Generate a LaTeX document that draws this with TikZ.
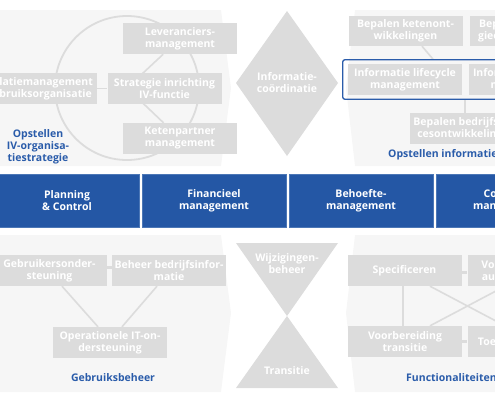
\documentclass[tikz,border=0pt]{standalone}
\usepackage{fontspec}
\setmainfont{Open Sans}
\usetikzlibrary{fit,calc}
\definecolor{panel}{HTML}{F6F6F6}
\definecolor{gbx}{HTML}{DCDCDC}
\definecolor{bar}{HTML}{2457A5}
\definecolor{barline}{HTML}{4C77B6}
\definecolor{lbl}{HTML}{2A5CAA}
\pgfdeclarelayer{pan}
\pgfdeclarelayer{bg}
\pgfsetlayers{pan,bg,main}
\begin{document}
\begin{tikzpicture}[x=1pt,y=-1pt,
  every node/.style={font=\bfseries\fontsize{10.5}{12}\selectfont},
  gbox/.style={fill=gbx,text=white,minimum width=114pt,minimum height=31pt,inner sep=0pt,align=center},
  barbox/.style={fill=bar,draw=barline,line width=0.6pt,text=white,minimum width=144pt,minimum height=53pt,inner sep=0pt,align=center},
  conn/.style={draw=gbx,line width=1.6pt},
  lab/.style={text=lbl,align=center,inner sep=0pt},
  shapetext/.style={text=white,align=center,inner sep=0pt}]
\useasboundingbox (0,0) rectangle (495,400);
\clip (0,0) rectangle (495,400);

% panels
\begin{pgfonlayer}{pan}
\fill[panel] (0,10) -- (221,10) -- (231,88) -- (221,166) -- (0,166) -- cycle;
\fill[panel] (0,235) -- (221,235) -- (231,313) -- (221,392) -- (0,392) -- cycle;
\fill[panel] (355,10) -- (495,10) -- (495,166) -- (355,166) -- (346,88) -- cycle;
\fill[panel] (355,235) -- (495,235) -- (495,392) -- (355,392) -- (346,313) -- cycle;
\end{pgfonlayer}

% top-left: IV-organisatiestrategie
\coordinate (cc) at (127,88);
\node[gbox] (lev) at (180,38.5) {Leveranciers-\\management};
\node[gbox] (rel) at (39.5,88.5) {Relatiemanagement\\gebruiksorganisatie};
\node[gbox] (strat) at (164.5,88.5) {Strategie inrichting\\IV-functie};
\node[gbox] (keten) at (180,138.5) {Ketenpartner\\management};
\node[lab] (l1) at (38,147) {Opstellen\\IV-organisa-\\tiestrategie};
\begin{pgfonlayer}{bg}
\draw[gbx,line width=1.8pt] (cc) circle[radius=72];
\draw[conn] (cc) -- (lev);
\draw[conn] (cc) -- (keten);
\draw[conn] (rel) -- (strat);
\end{pgfonlayer}

% diamond
\fill[gbx] (236,83) -- (287,11) -- (338,83) -- (287,156) -- cycle;
\node[shapetext] (dia) at (287,83) {Informatie-\\coördinatie};

% top-right: informatiestrategie
\node[gbox,minimum height=30pt] (bket) at (405.5,31) {Bepalen ketenont-\\wikkelingen};
\node[gbox,minimum height=30pt] (btech) at (526.5,31) {Bepalen technolo-\\gieontwikkelingen};
\node[gbox] (ilm) at (405,79.5) {Informatie lifecycle\\management};
\node[gbox] (ipm) at (525.5,79.5) {Informatie portfolio\\management};
\node[draw=lbl,line width=1.3pt,rounded corners=2pt,inner xsep=5pt,inner ysep=4pt,fit=(ilm)(ipm)] (ilc) {};
\node[gbox] (bbp) at (466.5,128.5) {Bepalen bedrijfspro-\\cesontwikkelingen};
\node[lab,anchor=west] (l2) at (388,155) {Opstellen informatiestrategie};
\begin{pgfonlayer}{bg}
\draw[conn] ([xshift=16.5pt]bket.south) -- ([xshift=27.5pt]bket.south |- ilc.north);
\draw[conn] ([xshift=-1.5pt]bbp.north) -- ([xshift=-1.5pt]bbp.north |- ilc.south);
\end{pgfonlayer}

% blue bar
\node[barbox] (pc) at (67,200.5) {Planning\\\& Control};
\node[barbox] (fm) at (214,200.5) {Financieel\\management};
\node[barbox] (bm) at (361,200.5) {Behoefte-\\management};
\node[barbox] (cm) at (508,200.5) {Contract-\\management};

% bottom-left: Gebruiksbeheer
\node[gbox] (gos) at (49.5,270.5) {Gebruikersonder-\\steuning};
\node[gbox] (bbi) at (169,270.5) {Beheer bedrijfsinfor-\\matie};
\node[gbox] (oit) at (110,342.5) {Operationele IT-on-\\dersteuning};
\node[lab] (l3) at (113,378) {Gebruiksbeheer};
\begin{pgfonlayer}{bg}
\draw[conn,line width=3pt] ([yshift=3pt]gos.east) -- ([yshift=3pt]bbi.west);
\draw[conn] ([xshift=12.5pt]gos.south) -- ([xshift=-12pt]oit.north);
\draw[conn] ([xshift=-12pt]bbi.south) -- ([xshift=12pt]oit.north);
\end{pgfonlayer}

% hourglass
\fill[gbx] (236,243) -- (338,243) -- (287,316) -- cycle;
\fill[gbx] (287,316) -- (338,388) -- (236,388) -- cycle;
\node[shapetext] (wb) at (287,264) {Wijzigingen-\\beheer};
\node[shapetext] (tr) at (287,371) {Transitie};

% bottom-right: Functionaliteitenbeheer
\node[gbox] (spec) at (404.5,270.5) {Specificeren};
\node[gbox] (vorm) at (524.5,270.5) {Vormgeven niet-\\automatische IV};
\node[gbox] (voor) at (405,341.5) {Voorbereiding\\transitie};
\node[gbox] (toe) at (524.5,341.5) {Toetsen en testen};
\node[lab,anchor=west] (l4) at (406,378) {Functionaliteitenbeheer};
\begin{pgfonlayer}{bg}
\draw[conn,line width=3pt] ([yshift=-2pt]spec.east) -- ([yshift=-2pt]vorm.west);
\draw[conn,line width=3pt] (voor.east) -- (toe.west);
\draw[conn] ([xshift=-1.5pt]spec.south) -- ([xshift=-1.5pt]spec.south |- voor.north);
\draw[conn] ([xshift=25.5pt]spec.south) -- ([xshift=-19.5pt]toe.north);
\draw[conn] ([xshift=25pt]voor.north) -- ([xshift=-19.5pt]vorm.south);
\end{pgfonlayer}
\end{tikzpicture}
\end{document}
